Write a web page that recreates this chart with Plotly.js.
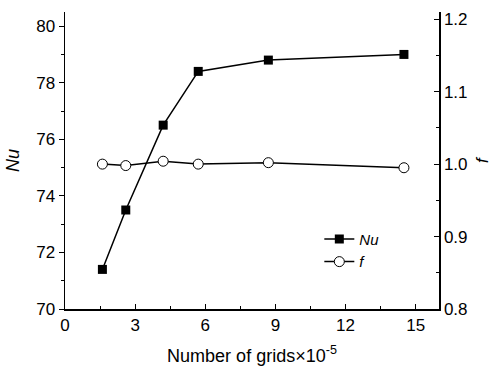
<!DOCTYPE html>
<html>
<head>
<meta charset="utf-8">
<script src="https://cdn.plot.ly/plotly-3.0.1.min.js"></script>
<style>
  html, body { margin: 0; padding: 0; background: #fff; }
  #chart { width: 492px; height: 372px; }
</style>
</head>
<body>
<div id="chart"></div>
<script>
// Grid independence study: Nusselt number and friction factor vs. mesh size
const grids = [1.6, 2.6, 4.2, 5.7, 8.7, 14.5];      // number of grids ×10^-5
const nuValues = [71.4, 73.5, 76.5, 78.4, 78.8, 79.0];
const fValues = [1.000, 0.998, 1.004, 1.000, 1.002, 0.995];

const font = 'Liberation Sans, Arial, sans-serif';

const nuTrace = {
  x: grids, y: nuValues, name: '<i>Nu</i>',
  type: 'scatter', mode: 'lines+markers',
  line: {color: '#000', width: 1.5},
  marker: {symbol: 'square', size: 9, color: '#000'},
  xaxis: 'x', yaxis: 'y'
};
const fTrace = {
  x: grids, y: fValues, name: '<i>f</i>',
  type: 'scatter', mode: 'lines+markers',
  line: {color: '#000', width: 1.5},
  marker: {symbol: 'circle', size: 10, color: '#fff', line: {color: '#000', width: 1}},
  xaxis: 'x', yaxis: 'y2'
};

const tickFont = {family: font, size: 17, color: '#000'};

const layout = {
  width: 492, height: 372,
  margin: {l: 65, r: 53, t: 12, b: 63},
  paper_bgcolor: '#fff', plot_bgcolor: '#fff',
  showlegend: true,
  legend: {
    x: 0.68, y: 0.29, xanchor: 'left', yanchor: 'top',
    bgcolor: 'rgba(0,0,0,0)', font: {family: font, size: 15, color: '#000'},
    tracegroupgap: 0, itemwidth: 30
  },
  xaxis: {
    range: [0, 16], tickvals: [0, 3, 6, 9, 12, 15],
    ticks: 'inside', ticklen: 5, tickwidth: 1, tickcolor: '#000',
    minor: {tickvals: [1.5, 4.5, 7.5, 10.5, 13.5], ticks: 'inside', ticklen: 3, tickcolor: '#000'},
    showline: true, linecolor: '#000', linewidth: 1.5,
    showgrid: false, zeroline: false, tickfont: tickFont,
    title: {text: 'Number of grids×10<sup>-5</sup>', font: {family: font, size: 18, color: '#000'}, standoff: 15}
  },
  xaxis2: {
    range: [0, 16], overlaying: 'x', side: 'top', anchor: 'y',
    tickvals: [0, 3, 6, 9, 12, 15], ticks: 'inside', ticklen: 3, tickcolor: '#000',
    minor: {tickvals: [1.5, 4.5, 7.5, 10.5, 13.5], ticks: 'inside', ticklen: 2, tickcolor: '#000'},
    showticklabels: false, showline: true, linecolor: '#000', linewidth: 1.5,
    showgrid: false, zeroline: false
  },
  yaxis: {
    range: [70, 80.5], tickvals: [70, 72, 74, 76, 78, 80],
    ticks: 'outside', ticklen: 5, tickwidth: 1, tickcolor: '#000',
    minor: {tickvals: [71, 73, 75, 77, 79], ticks: 'outside', ticklen: 3, tickcolor: '#000'},
    showline: true, linecolor: '#000', linewidth: 1.5,
    showgrid: false, zeroline: false, tickfont: tickFont,
    title: {text: '<i>Nu</i>', font: {family: font, size: 18, color: '#000'}, standoff: 12}
  },
  yaxis2: {
    range: [0.8, 1.21], tickvals: [0.8, 0.9, 1.0, 1.1, 1.2], ticktext: ['0.8', '0.9', '1.0', '1.1', '1.2'],
    overlaying: 'y', side: 'right', anchor: 'x',
    ticks: 'inside', ticklen: 5, tickwidth: 1, tickcolor: '#000',
    minor: {tickvals: [0.85, 0.95, 1.05, 1.15], ticks: 'inside', ticklen: 3, tickcolor: '#000'},
    showline: true, linecolor: '#000', linewidth: 1.5,
    showgrid: false, zeroline: false, tickfont: tickFont,
    title: {text: '<i>f</i>', font: {family: font, size: 17, color: '#000'}, standoff: 10}
  }
};

Plotly.newPlot('chart', [nuTrace, fTrace], layout, {displayModeBar: false, staticPlot: true});
</script>
</body>
</html>
